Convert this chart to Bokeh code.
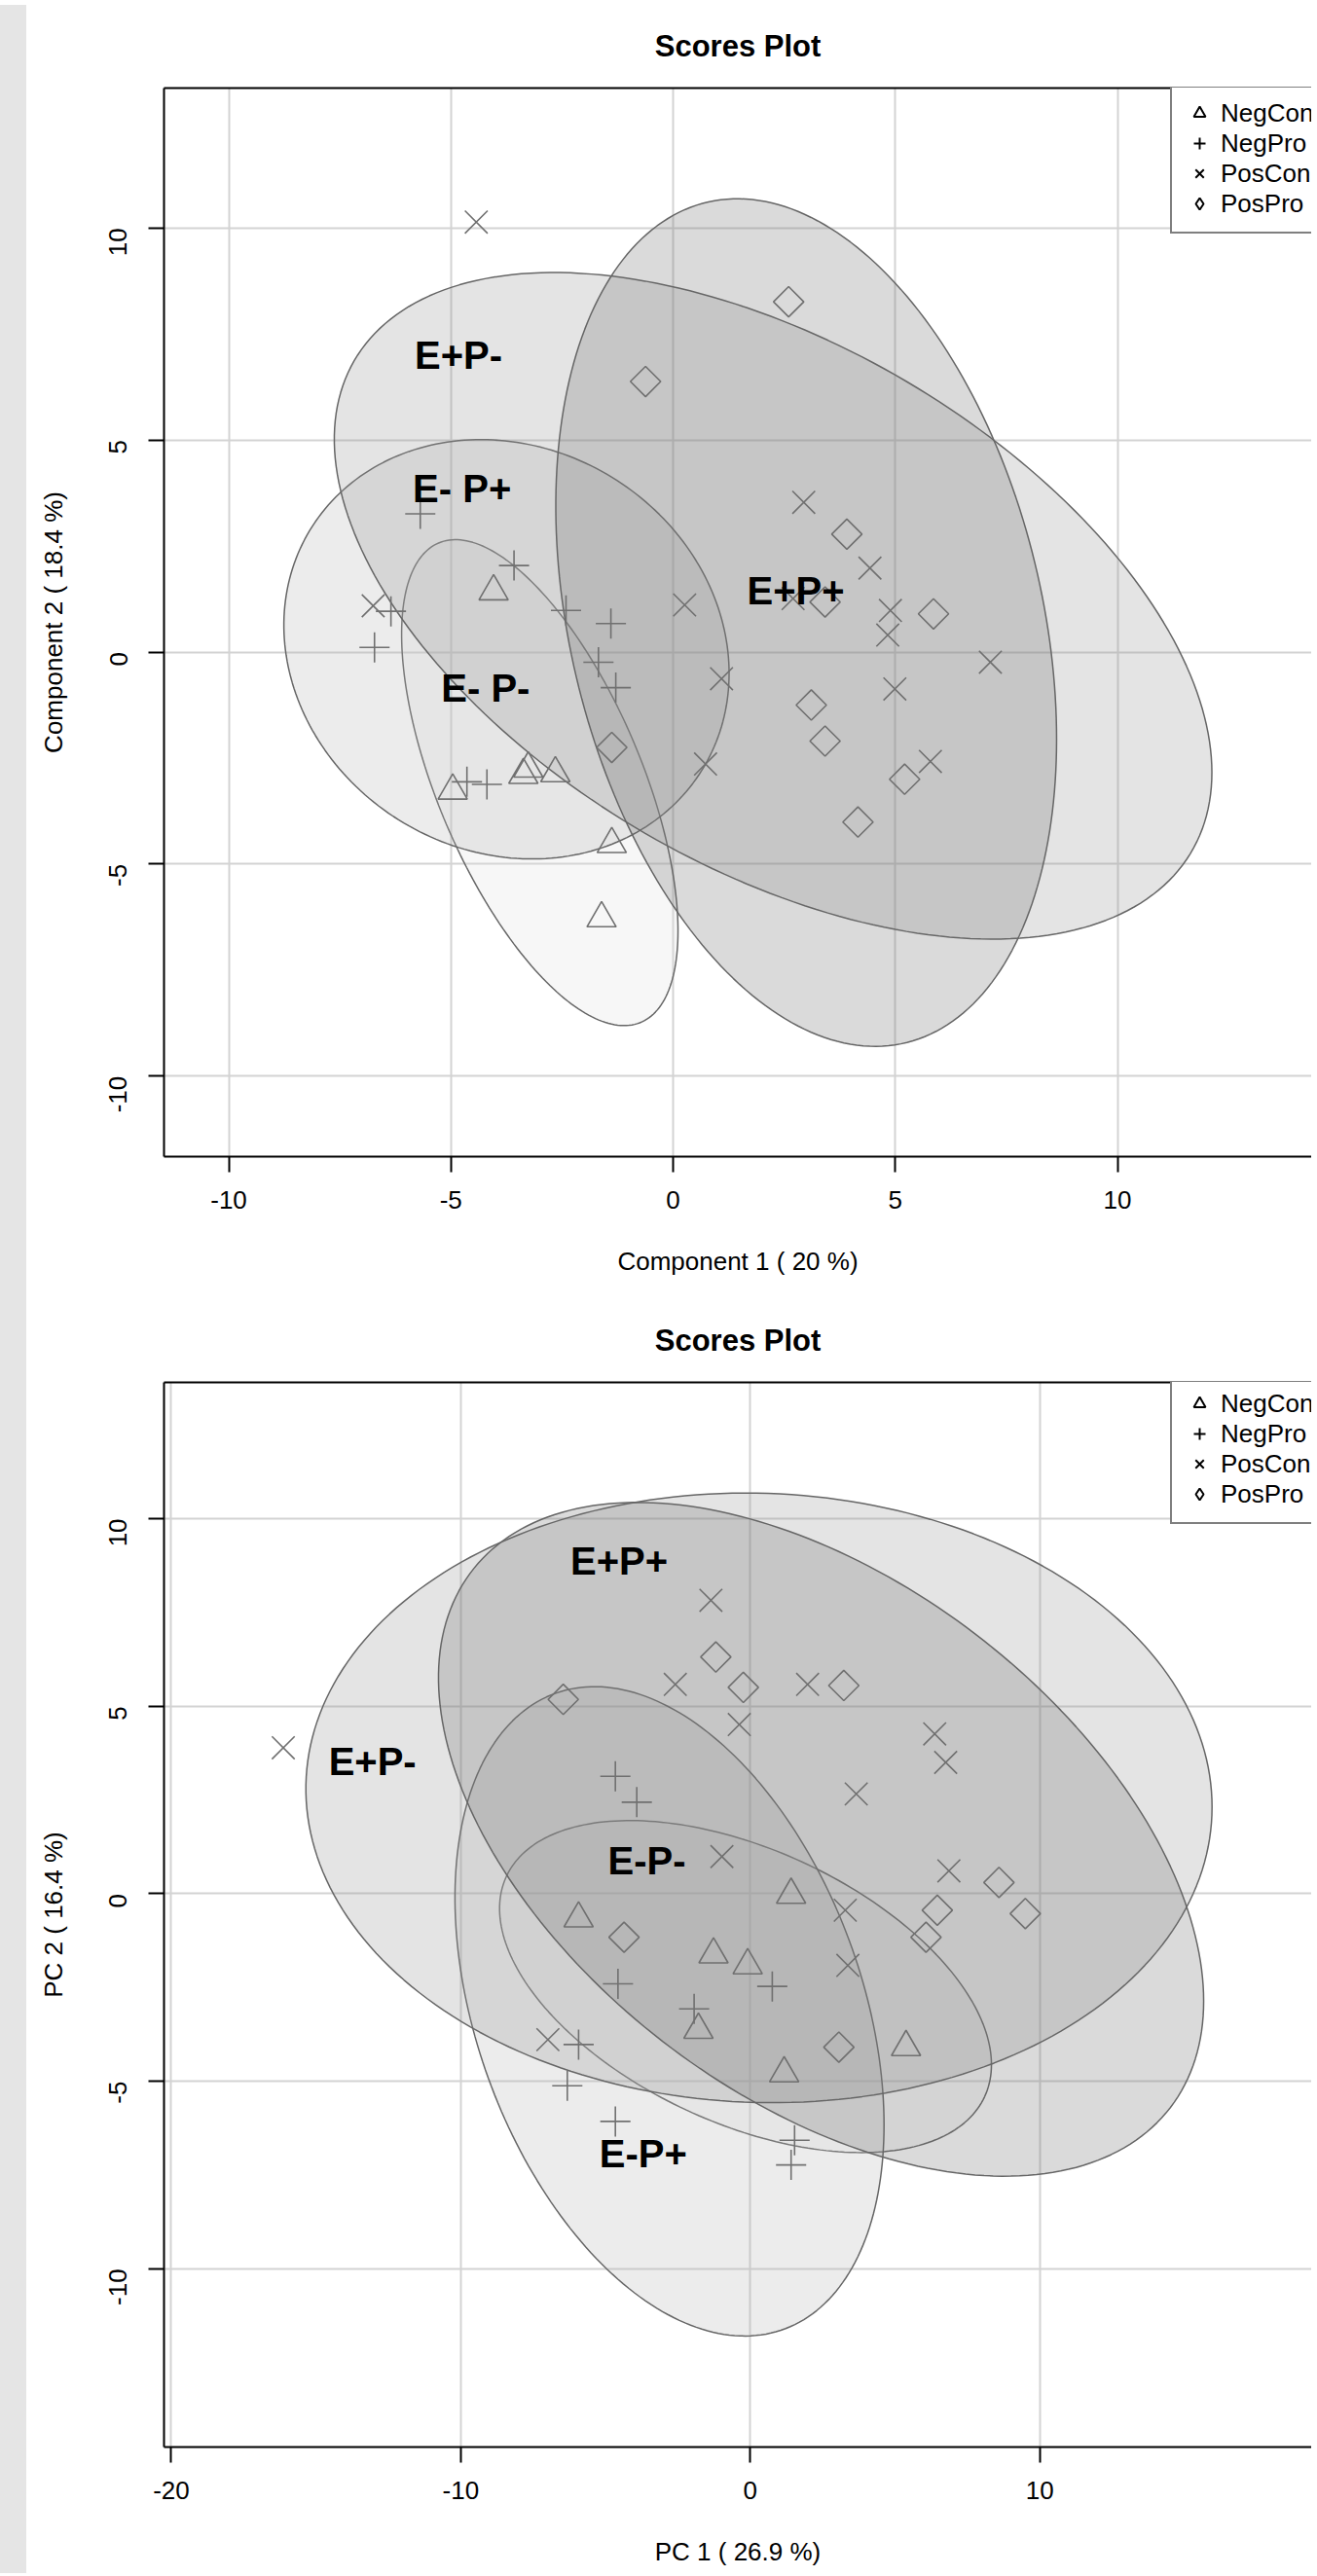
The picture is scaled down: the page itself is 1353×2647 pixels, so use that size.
import math
import numpy as np
from bokeh.plotting import figure
from bokeh.models import (Range1d, FixedTicker, LinearAxis, Legend, LegendItem, Div)
from bokeh.layouts import row, column
from bokeh.embed import file_html
from bokeh.resources import INLINE
from bokeh.core.properties import value

FONT = "Liberation Sans"

groups = ["NegCon", "NegPro", "PosCon", "PosPro"]
group_markers = ["triangle", "cross", "x", "square"]
legend_markers = ["triangle", "cross", "x", "diamond"]

# ---------------- Plot 1 : PLS-DA scores ----------------
p1_title = "Scores Plot"
p1_xlabel = "Component 1 ( 20 %)"
p1_ylabel = "Component 2 ( 18.4 %)"
p1_xticks = [-10, -5, 0, 5, 10]
p1_yticks = [-10, -5, 0, 5, 10]

p1_negcon_x = [-4.04, -4.96, -3.37, -3.26, -2.65, -1.38, -1.61]
p1_negcon_y = [1.43, -3.27, -2.90, -2.75, -2.86, -4.53, -6.28]
p1_negpro_x = [-5.69, -3.58, -2.41, -1.40, -6.35, -6.72, -1.68, -1.29, -4.64, -4.19]
p1_negpro_y = [3.26, 2.04, 0.98, 0.67, 0.96, 0.11, -0.24, -0.84, -3.06, -3.12]
p1_poscon_x = [-4.43, 2.94, 4.43, 4.89, 4.83, 7.14, 4.99, 5.79, 0.26, 1.09, 0.73, -6.75, 2.70]
p1_poscon_y = [10.14, 3.53, 1.98, 0.98, 0.40, -0.24, -0.87, -2.58, 1.11, -0.63, -2.64, 1.09, 1.26]
p1_pospro_x = [2.60, -0.62, 3.91, 5.86, 3.42, 3.11, 3.42, 5.21, 4.16, -1.38]
p1_pospro_y = [8.26, 6.38, 2.78, 0.90, 1.18, -1.25, -2.10, -3.00, -4.01, -2.25]

# confidence ellipses: centre, half-extent in x and y, correlation (NegCon, NegPro, PosCon, PosPro)
p1_ell_cx = [-3.00, -3.75, 2.25, 2.995]
p1_ell_cy = [-3.08, 0.065, 1.09, 0.695]
p1_ell_hx = [3.11, 5.01, 9.875, 5.635]
p1_ell_hy = [5.73, 4.945, 7.86, 9.995]
p1_ell_rho = [-0.61, -0.115, -0.50, -0.275]

p1_lab_text = ["E+P-", "E- P+", "E- P-", "E+P+"]
p1_lab_x = [-4.83, -4.75, -4.22, 2.76]
p1_lab_y = [6.99, 3.86, -0.85, 1.45]

# ---------------- Plot 2 : PCA scores ----------------
p2_title = "Scores Plot"
p2_xlabel = "PC 1 ( 26.9 %)"
p2_ylabel = "PC 2 ( 16.4 %)"
p2_xticks = [-20, -10, 0, 10]
p2_yticks = [-10, -5, 0, 5, 10]

p2_negcon_x = [1.41, -5.93, -1.27, -0.09, -1.79, 1.17, 5.38]
p2_negcon_y = [-0.03, -0.66, -1.62, -1.91, -3.63, -4.79, -4.09]
p2_negpro_x = [-4.66, -3.92, -4.57, -1.94, 0.76, -5.93, -6.32, -4.66, 1.53, 1.41]
p2_negpro_y = [3.13, 2.44, -2.40, -3.07, -2.47, -4.02, -5.12, -6.07, -6.57, -7.23]
p2_poscon_x = [-16.13, -1.36, -2.59, -0.38, 1.98, 6.37, 6.75, 3.66, -0.98, 6.86, 3.28, 3.37, -6.99]
p2_poscon_y = [3.89, 7.82, 5.58, 4.51, 5.58, 4.26, 3.50, 2.66, 0.99, 0.61, -0.44, -1.91, -3.89]
p2_pospro_x = [-1.19, -0.24, 3.23, -6.46, -4.36, 8.59, 9.50, 6.46, 6.07, 3.06]
p2_pospro_y = [6.31, 5.50, 5.55, 5.18, -1.16, 0.30, -0.53, -0.44, -1.16, -4.09]

p2_ell_cx = [-0.165, -2.79, 0.30, 2.445]
p2_ell_cy = [-2.475, -3.135, 2.555, 1.45]
p2_ell_hx = [8.495, 7.41, 15.65, 13.215]
p2_ell_hy = [4.425, 8.655, 8.125, 8.98]
p2_ell_rho = [-0.47, -0.35, -0.03, -0.48]

p2_lab_text = ["E+P+", "E+P-", "E-P-", "E-P+"]
p2_lab_x = [-4.53, -13.05, -3.57, -3.70]
p2_lab_y = [8.86, 3.53, 0.89, -6.94]

# ---------------- styling ----------------
ell_fill = ["#dfdfdf", "#b3b3b3", "#939393", "#6b6b6b"]
ell_alpha = 0.25
ell_line = "#666666"
pt_color = "#707070"
marker_size = {"triangle": 30, "cross": 31, "x": 33, "square": 22, "diamond": 22}
marker_angle = {"triangle": 0, "cross": 0, "x": 0, "square": math.pi / 4, "diamond": 0}


def ellipse_xy(cx, cy, hx, hy, rho, n=240):
    t = np.linspace(0, 2 * np.pi, n)
    d = np.arccos(rho)
    return list(cx + hx * np.cos(t)), list(cy + hy * np.cos(t - d))


def make_plot(title, xlabel, ylabel, xticks, yticks, xr, yr, pts, ell, labs,
              height, border_top, border_bottom):
    p = figure(width=1315, height=height, output_backend="svg", toolbar_location=None,
               x_range=Range1d(*xr), y_range=Range1d(*yr),
               min_border_left=136, min_border_right=0,
               min_border_top=border_top, min_border_bottom=border_bottom)
    p.outline_line_color = None
    p.background_fill_color = "white"
    p.border_fill_color = "white"

    p.title.text = title
    p.title.align = "center"
    p.title.text_font = FONT
    p.title.text_font_size = "31px"
    p.title.text_font_style = "bold"
    p.title.text_color = "black"
    p.title.standoff = 52

    for ax, lab, ticks in ((p.xaxis[0], xlabel, xticks), (p.yaxis[0], ylabel, yticks)):
        ax.ticker = FixedTicker(ticks=ticks)
        ax.major_label_overrides = {t: str(t) for t in ticks}
        ax.axis_label = lab
        ax.axis_label_text_font = FONT
        ax.axis_label_text_font_size = "26px"
        ax.axis_label_text_font_style = "normal"
        ax.axis_label_text_color = "black"
        ax.major_label_text_font = FONT
        ax.major_label_text_font_size = "26px"
        ax.major_label_text_color = "black"
        ax.axis_line_width = 2
        ax.axis_line_color = "black"
        ax.major_tick_line_width = 2
        ax.major_tick_line_color = "black"
        ax.major_tick_out = 16
        ax.major_tick_in = 0
        ax.minor_tick_line_color = None
    p.xaxis[0].major_label_standoff = 19
    p.xaxis[0].axis_label_standoff = 36
    p.yaxis[0].major_label_standoff = 31
    p.yaxis[0].axis_label_standoff = 31
    p.yaxis[0].major_label_orientation = math.pi / 2

    top = LinearAxis(ticker=FixedTicker(ticks=[]), axis_line_width=2, axis_line_color="black",
                     major_tick_line_color=None, minor_tick_line_color=None)
    p.add_layout(top, "above")

    for g in (p.xgrid[0], p.ygrid[0]):
        g.grid_line_color = "#d3d3d3"
        g.grid_line_width = 2

    cx, cy, hx, hy, rho = ell
    xs, ys = [], []
    for i in range(len(cx)):
        ex, ey = ellipse_xy(cx[i], cy[i], hx[i], hy[i], rho[i])
        xs.append(ex)
        ys.append(ey)
    p.patches(xs=xs, ys=ys, fill_color=ell_fill, fill_alpha=ell_alpha,
              line_color=ell_line, line_width=1.5)

    for (gx, gy), mk in zip(pts, group_markers):
        p.scatter(x=gx, y=gy, marker=mk, size=marker_size[mk], angle=marker_angle[mk],
                  fill_color=None, line_color=pt_color, line_width=1.6)

    tx, ty, tt = labs
    p.text(x=tx, y=ty, text=tt, text_font=value(FONT), text_font_size="40px",
           text_font_style="bold", text_align="center", text_baseline="middle",
           text_color="black")

    # legend-only renderers (black symbols, no visible points)
    items = []
    for g, mk in zip(groups, legend_markers):
        r = p.scatter(x=[np.nan], y=[np.nan], marker=mk, size=marker_size[mk],
                      fill_color=None, line_color="black", line_width=2)
        items.append(LegendItem(label=g, renderers=[r]))
    leg = Legend(items=items, location=(1034.0, 948.2))
    leg.border_line_color = "black"
    leg.border_line_width = 2
    leg.background_fill_color = "white"
    leg.background_fill_alpha = 1.0
    leg.padding = 13
    leg.spacing = 0
    leg.margin = 0
    leg.glyph_width = 30
    leg.glyph_height = 30
    leg.label_height = 30
    leg.label_standoff = 7
    leg.label_text_font = FONT
    leg.label_text_font_size = "26px"
    leg.label_text_color = "black"
    p.add_layout(leg)
    return p


p1 = make_plot(p1_title, p1_xlabel, p1_ylabel, p1_xticks, p1_yticks,
               (-11.457, 14.37), (-11.90, 13.30),
               [(p1_negcon_x, p1_negcon_y), (p1_negpro_x, p1_negpro_y),
                (p1_poscon_x, p1_poscon_y), (p1_pospro_x, p1_pospro_y)],
               (p1_ell_cx, p1_ell_cy, p1_ell_hx, p1_ell_hy, p1_ell_rho),
               (p1_lab_x, p1_lab_y, p1_lab_text),
               height=1320, border_top=90, border_bottom=132)

p2 = make_plot(p2_title, p2_xlabel, p2_ylabel, p2_xticks, p2_yticks,
               (-20.25, 19.39), (-14.75, 13.63),
               [(p2_negcon_x, p2_negcon_y), (p2_negpro_x, p2_negpro_y),
                (p2_poscon_x, p2_poscon_y), (p2_pospro_x, p2_pospro_y)],
               (p2_ell_cx, p2_ell_cy, p2_ell_hx, p2_ell_hy, p2_ell_rho),
               (p2_lab_x, p2_lab_y, p2_lab_text),
               height=1319, border_top=100, border_bottom=121)

strip_html = ('<div style="position:absolute; left:-8px; top:0px; width:30px; '
              'height:2639px; background-color:#e5e5e5;"></div>')
strip = Div(text=strip_html, width=22, height=2639, styles={"background-color": "#e5e5e5"})
layout = row(strip, column(p1, p2, spacing=0), spacing=0)

open("out.html", "w").write(file_html(layout, INLINE))
